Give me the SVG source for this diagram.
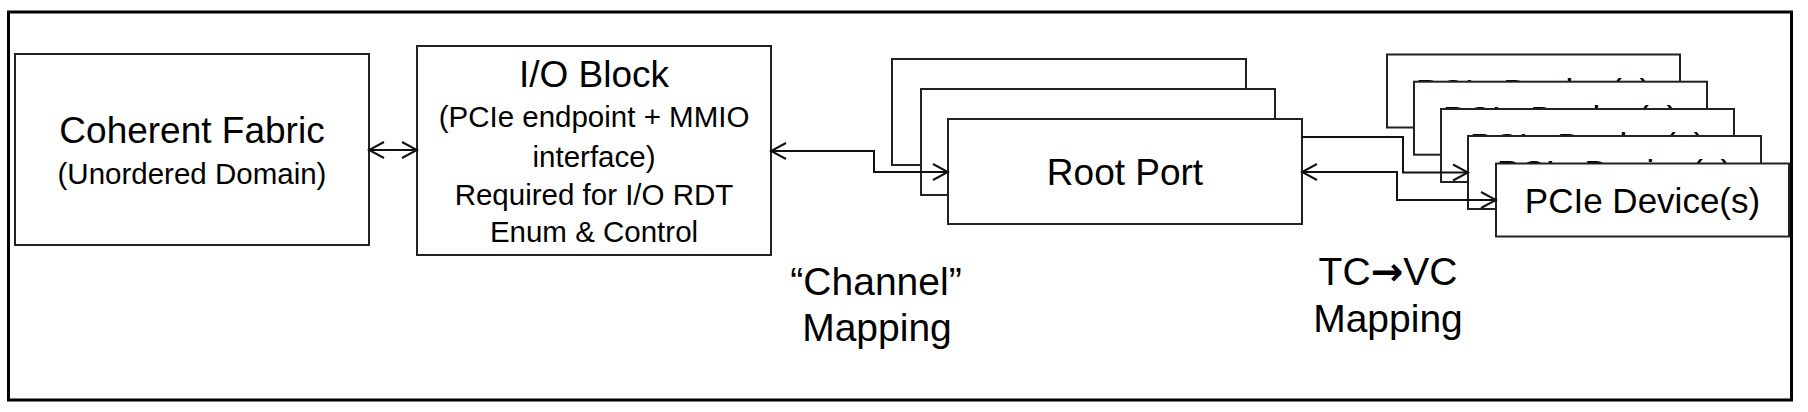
<svg xmlns="http://www.w3.org/2000/svg" width="1808" height="412" viewBox="0 0 1808 412">
<style>
  .frame { fill: none; stroke: #000; stroke-width: 3; }
  .box { fill: #fff; stroke: #222; stroke-width: 2; }
  .txt { font-family: "Liberation Sans", Arial, sans-serif; fill: #000; text-anchor: middle; }
  .big { font-size: 37px; }
  .small { font-size: 29.5px; }
  .dev { font-size: 35px; }
  .lbl { font-size: 39px; }
  .arrowglyph { font-family: "DejaVu Sans", sans-serif; font-weight: bold; }
  .conn { fill: none; stroke: #111; stroke-width: 2; }
</style>
<defs>
  <marker id="open-arrow" markerUnits="userSpaceOnUse" viewBox="-17 -10 19 20" refX="0" refY="0" markerWidth="19" markerHeight="20" orient="auto-start-reverse">
    <path d="M-15,-8 L0,0 L-15,8" fill="none" stroke="#111" stroke-width="2"/>
  </marker>
</defs>
<rect width="1808" height="412" fill="#fff"/>
<rect class="frame" x="8.5" y="12" width="1783" height="388"/>

<g id="coherent-fabric">
  <rect class="box" x="15" y="54" width="354" height="191"/>
  <text class="txt big" x="192" y="143">Coherent Fabric</text>
  <text class="txt small" x="192" y="184">(Unordered Domain)</text>
</g>

<g id="io-block">
  <rect class="box" x="417" y="46" width="354" height="209"/>
  <text class="txt big" x="594" y="87">I/O Block</text>
  <text class="txt small" x="594" y="127">(PCIe endpoint + MMIO</text>
  <text class="txt small" x="594" y="167">interface)</text>
  <text class="txt small" x="594" y="205">Required for I/O RDT</text>
  <text class="txt small" x="594" y="242">Enum &amp; Control</text>
</g>

<g id="root-port">
  <rect class="box" x="892" y="59" width="354" height="106"/>
  <rect class="box" x="921" y="89" width="354" height="106"/>
  <rect class="box" x="948" y="119" width="354" height="105"/>
  <text class="txt big" x="1125" y="185">Root Port</text>
</g>

<g id="pcie-devices">
  <g id="pcie-device-1">
    <rect class="box" x="1387" y="54.5" width="293" height="73"/>
    <text class="txt dev" x="1533.5" y="103.5">PCIe Device(s)</text>
  </g>
  <g id="pcie-device-2">
    <rect class="box" x="1414" y="81.7" width="293" height="73"/>
    <text class="txt dev" x="1560.5" y="130.7">PCIe Device(s)</text>
  </g>
  <g id="pcie-device-3">
    <rect class="box" x="1441" y="109" width="293" height="73"/>
    <text class="txt dev" x="1587.5" y="158">PCIe Device(s)</text>
  </g>
  <g id="pcie-device-4">
    <rect class="box" x="1468" y="136" width="293" height="73"/>
    <text class="txt dev" x="1614.5" y="185">PCIe Device(s)</text>
  </g>
  <g id="pcie-device-5">
    <rect class="box" x="1496" y="163.5" width="293" height="73"/>
    <text class="txt dev" x="1642.5" y="212.5">PCIe Device(s)</text>
  </g>
</g>

<g id="connectors">
  <path class="conn" d="M369,150 H417" marker-start="url(#open-arrow)" marker-end="url(#open-arrow)"/>
  <path class="conn" d="M771,151 H874 V172 H948" marker-start="url(#open-arrow)" marker-end="url(#open-arrow)"/>
  <path class="conn" d="M1302,137 H1403 V172.5 H1468" marker-end="url(#open-arrow)"/>
  <path class="conn" d="M1302,172 H1397 V200 H1496" marker-start="url(#open-arrow)" marker-end="url(#open-arrow)"/>
</g>

<g id="labels">
  <text class="txt lbl" x="876" y="295">“Channel”</text>
  <text class="txt lbl" x="877" y="341">Mapping</text>
  <text class="txt lbl" x="1388" y="285">TC<tspan class="arrowglyph">→</tspan>VC</text>
  <text class="txt lbl" x="1388" y="332">Mapping</text>
</g>
</svg>
